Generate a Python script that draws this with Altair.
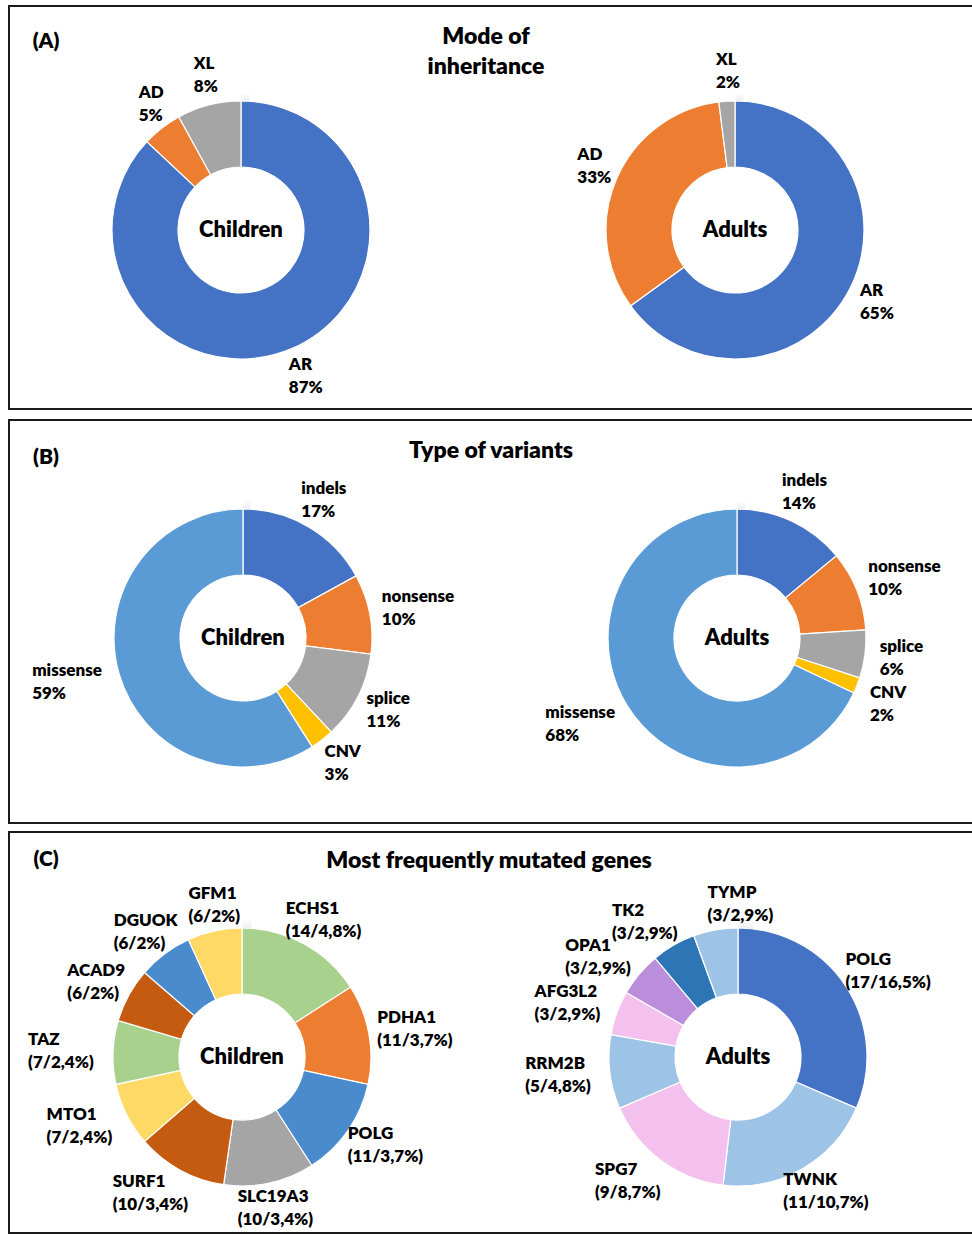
import altair as alt
import pandas as pd

FONT = "Lato"
WEIGHT = 800
LABEL_SIZE = 17
LH = 23          # line height of the two-line slice labels
CHAR_W = 9.5     # rough glyph width used to push labels clear of the ring
V_PUSH = 0.75    # share of a line height added to the vertical clearance

# (A) Mode of inheritance
inh_labels = ["AR", "AD", "XL"]
inh_children = [87, 5, 8]
inh_adults = [65, 33, 2]
inh_colors = ["#4472C4", "#ED7D31", "#A5A5A5"]

# (B) Type of variants
var_labels = ["indels", "nonsense", "splice", "CNV", "missense"]
var_children = [17, 10, 11, 3, 59]
var_adults = [14, 10, 6, 2, 68]
var_colors = ["#4472C4", "#ED7D31", "#A5A5A5", "#FFC000", "#5B9BD5"]

# (C) Most frequently mutated genes: patient counts and share of cohort
genes_children = ["ECHS1", "PDHA1", "POLG", "SLC19A3", "SURF1", "MTO1", "TAZ", "ACAD9", "DGUOK", "GFM1"]
genes_children_n = [14, 11, 11, 10, 10, 7, 7, 6, 6, 6]
genes_children_pct = ["4,8%", "3,7%", "3,7%", "3,4%", "3,4%", "2,4%", "2,4%", "2%", "2%", "2%"]
genes_children_colors = ["#A9D18E", "#ED7D31", "#4A8BCE", "#A5A5A5", "#C55A11",
                         "#FFD966", "#A9D18E", "#C55A11", "#4A8BCE", "#FFD966"]

genes_adults = ["POLG", "TWNK", "SPG7", "RRM2B", "AFG3L2", "OPA1", "TK2", "TYMP"]
genes_adults_n = [17, 11, 9, 5, 3, 3, 3, 3]
genes_adults_pct = ["16,5%", "10,7%", "8,7%", "4,8%", "2,9%", "2,9%", "2,9%", "2,9%"]
genes_adults_colors = ["#4472C4", "#9DC3E6", "#F4C0EE", "#9DC3E6", "#F4C0EE",
                       "#BB8EDB", "#2E75B6", "#9DC3E6"]


def donut(keys, values, subs, colors, cx, cy, label_r, center_text):
    df = pd.DataFrame({
        "key": keys, "value": values, "sub": subs,
        "label": [f"{k}\n{s}" for k, s in zip(keys, subs)],
        "idx": list(range(len(keys))),
    })
    # faint glow around the ring
    glow = [
        alt.Chart(pd.DataFrame({"v": [1]})).mark_arc(
            innerRadius=r0, outerRadius=r1, color="#d9d9d9", opacity=op
        ).encode(theta=alt.Theta("v:Q"), x=alt.value(cx), y=alt.value(cy))
        for r0, r1, op in [(128, 131, 0.45), (131, 134, 0.25), (134, 137, 0.12)]
    ]
    arcs = alt.Chart(df).mark_arc(
        innerRadius=63, outerRadius=129, stroke="white", strokeWidth=1.2
    ).encode(
        theta=alt.Theta("value:Q", stack=True),
        order=alt.Order("idx:Q", sort="ascending"),
        color=alt.Color("key:N", scale=alt.Scale(domain=keys, range=colors), legend=None),
        x=alt.value(cx),
        y=alt.value(cy),
    )
    # left-aligned two-line labels just outside the middle of each slice,
    # pushed outward by their own estimated size, then nudged off their neighbour
    block = 2 * LH
    labels = alt.Chart(df).transform_joinaggregate(
        total="sum(value)"
    ).transform_window(
        cum="sum(value)", sort=[alt.SortField("idx", order="ascending")]
    ).transform_calculate(
        mid="2 * PI * (datum.cum - datum.value / 2) / datum.total",
        w=f"max(length(datum.key), length(datum.sub)) * {CHAR_W}",
    ).transform_calculate(
        s="sin(datum.mid)",
        c="cos(datum.mid)",
    ).transform_calculate(
        lx0=f"{cx} + datum.s * ({label_r} + datum.w / 2) - datum.w / 2",
        ly0=f"{cy} - datum.c * ({label_r} + {V_PUSH * LH}) - {LH / 2}",
    ).transform_window(
        prev_lx="lag(lx0)", prev_ly="lag(ly0)", prev_w="lag(w)", prev_s="lag(s)",
        sort=[alt.SortField("idx", order="ascending")],
    ).transform_calculate(
        ly=(f"(datum.prev_ly != null && datum.s > 0 && datum.prev_s > 0 && "
            f"datum.ly0 < datum.prev_ly + {block}) ? datum.prev_ly + {block} : datum.ly0"),
        lx=(f"(datum.prev_lx != null && datum.s < 0 && datum.prev_s < 0 && datum.c > 0.9 && "
            f"abs(datum.ly0 - datum.prev_ly) < {block}) ? "
            f"max(datum.lx0, datum.prev_lx + datum.prev_w * 1.1 + 12) : datum.lx0"),
    ).mark_text(
        font=FONT, fontWeight=WEIGHT, fontSize=LABEL_SIZE, lineBreak="\n", lineHeight=LH,
        color="black", align="left", baseline="middle"
    ).encode(
        x=alt.X("lx:Q", scale=None),
        y=alt.Y("ly:Q", scale=None),
        text="label:N",
    )
    middle = alt.Chart(pd.DataFrame({"t": [center_text]})).mark_text(
        font=FONT, fontWeight=WEIGHT, fontSize=22, color="black",
        align="center", baseline="middle"
    ).encode(text="t:N", x=alt.value(cx), y=alt.value(cy))
    return alt.layer(*glow, arcs, labels, middle)


one = pd.DataFrame({"v": [0]})


def box(y0, y1):
    return alt.Chart(one).mark_rect(fillOpacity=0, stroke="#1a1a1a", strokeWidth=2).encode(
        x=alt.value(9), x2=alt.value(980), y=alt.value(y0), y2=alt.value(y1)
    )


def text_at(t, x, y, size, line_height=None):
    props = dict(font=FONT, fontWeight=WEIGHT, fontSize=size, color="black",
                 align="center", baseline="middle", lineBreak="\n")
    if line_height:
        props["lineHeight"] = line_height
    return alt.Chart(pd.DataFrame({"t": [t]})).mark_text(**props).encode(
        text="t:N", x=alt.value(x), y=alt.value(y)
    )


decor = [
    box(6, 409), box(420, 823), box(832, 1233),
    text_at("(A)", 46, 42, 21), text_at("(B)", 46, 458, 21), text_at("(C)", 46, 860, 21),
    text_at("Mode of\ninheritance", 486, 37, 23, 30),
    text_at("Type of variants", 491, 451, 23),
    text_at("Most frequently mutated genes", 489, 861, 23),
]

donuts = [
    donut(inh_labels, inh_children, [f"{v}%" for v in inh_children], inh_colors,
          241, 230, 142, "Children"),
    donut(inh_labels, inh_adults, [f"{v}%" for v in inh_adults], inh_colors,
          735, 230, 142, "Adults"),
    donut(var_labels, var_children, [f"{v}%" for v in var_children], var_colors,
          243, 638, 142, "Children"),
    donut(var_labels, var_adults, [f"{v}%" for v in var_adults], var_colors,
          737, 638, 144, "Adults"),
    donut(genes_children, genes_children_n,
          [f"({n}/{p})" for n, p in zip(genes_children_n, genes_children_pct)],
          genes_children_colors, 242, 1057, 138, "Children"),
    donut(genes_adults, genes_adults_n,
          [f"({n}/{p})" for n, p in zip(genes_adults_n, genes_adults_pct)],
          genes_adults_colors, 738, 1057, 138, "Adults"),
]

chart = alt.layer(*decor, *donuts).resolve_scale(
    theta="independent", color="independent"
).properties(
    width=972, height=1235, padding=0, autosize=alt.AutoSizeParams(type="none"),
    background="white"
).configure_view(stroke=None)

chart.save("out.html", embed_options={"renderer": "svg", "actions": False})
